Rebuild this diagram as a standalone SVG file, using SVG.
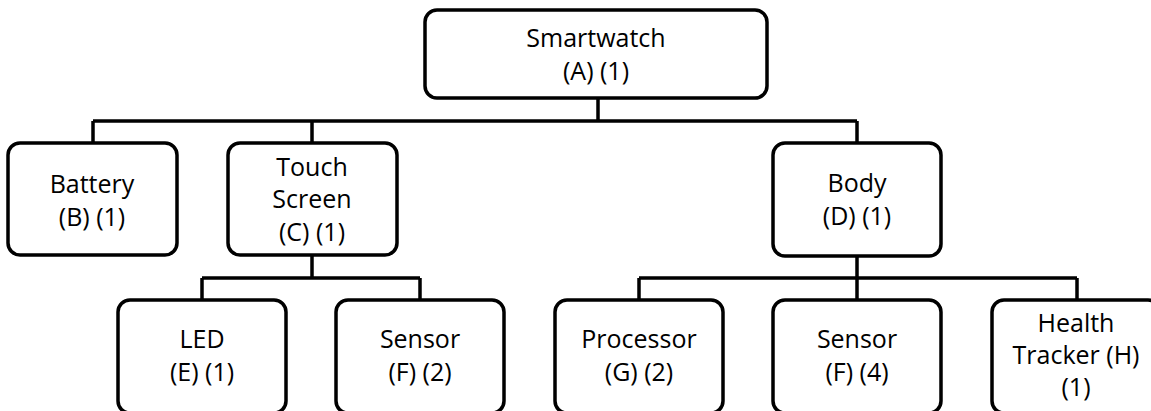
<svg xmlns="http://www.w3.org/2000/svg" width="1151" height="411" viewBox="0 0 1151 411">
<style>
.box{fill:#fff;stroke:#000;stroke-width:3.5}
.ln{fill:none;stroke:#000;stroke-width:3.5;stroke-linejoin:miter}
text{font-family:"Open Sans","Liberation Sans",sans-serif;font-size:25px;fill:#000;text-anchor:middle}
</style>
<rect width="1151" height="411" fill="#fff"/>
<g id="connectors">
<path class="ln" d="M598 98V121M93 121H857M93 121V143M312 121V143M857 121V143"/>
<path class="ln" d="M312 255V278M202 278H420M202 278V300M420 278V300"/>
<path class="ln" d="M857 256V278M639 278H1077M639 278V300M857 278V300M1077 278V300"/>
</g>
<g id="A"><rect class="box" x="425" y="10" width="342" height="88" rx="12"/><text x="596" y="47">Smartwatch</text><text x="596" y="80">(A) (1)</text></g>
<g id="B"><rect class="box" x="8" y="143" width="169" height="112" rx="12"/><text x="92" y="193">Battery</text><text x="92" y="226">(B) (1)</text></g>
<g id="C"><rect class="box" x="228" y="143" width="169" height="112" rx="12"/><text x="312" y="176">Touch</text><text x="312" y="208">Screen</text><text x="312" y="241">(C) (1)</text></g>
<g id="D"><rect class="box" x="773" y="143" width="168" height="113" rx="12"/><text x="857" y="192">Body</text><text x="857" y="225">(D) (1)</text></g>
<g id="E"><rect class="box" x="118" y="300" width="168" height="113" rx="12"/><text x="202" y="348">LED</text><text x="202" y="381">(E) (1)</text></g>
<g id="F2"><rect class="box" x="336" y="300" width="168" height="113" rx="12"/><text x="420" y="348">Sensor</text><text x="420" y="381">(F) (2)</text></g>
<g id="G"><rect class="box" x="555" y="300" width="168" height="113" rx="12"/><text x="639" y="348">Processor</text><text x="639" y="381">(G) (2)</text></g>
<g id="F4"><rect class="box" x="773" y="300" width="168" height="113" rx="12"/><text x="857" y="348">Sensor</text><text x="857" y="381">(F) (4)</text></g>
<g id="H"><rect class="box" x="992" y="300" width="168" height="113" rx="12"/><text x="1076" y="332">Health</text><text x="1076" y="364">Tracker (H)</text><text x="1076" y="396">(1)</text></g>
</svg>
